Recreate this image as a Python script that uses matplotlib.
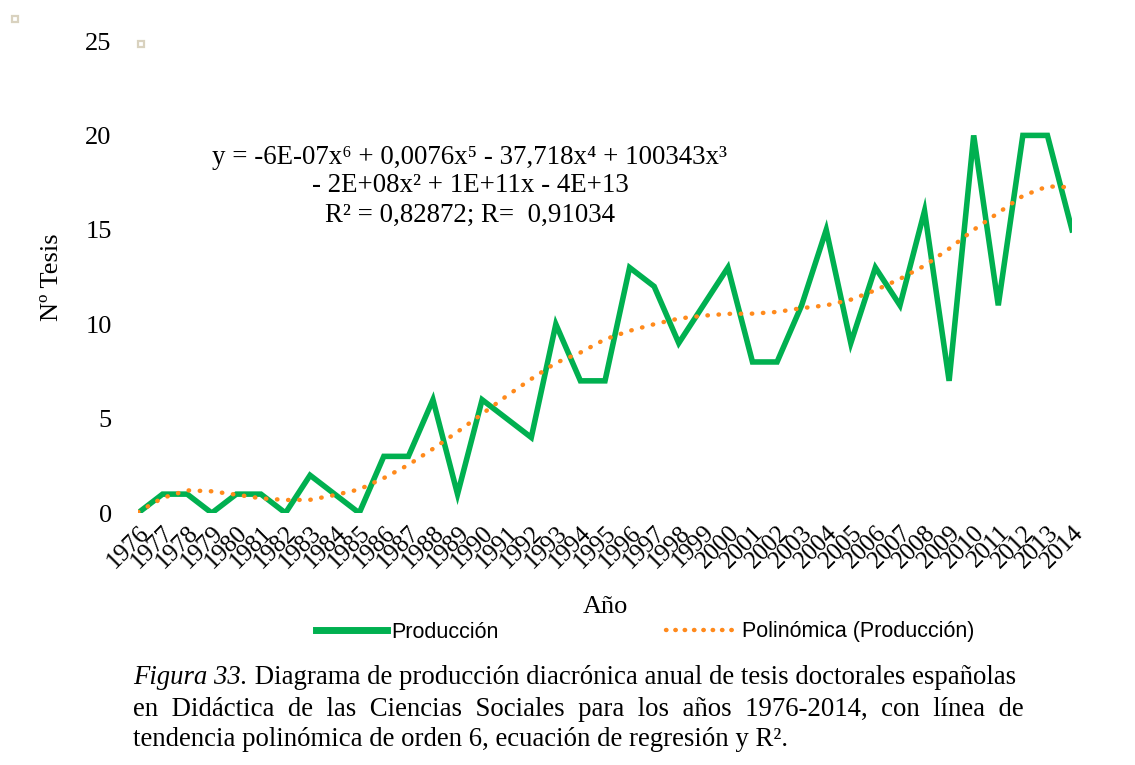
#!/usr/bin/env python3

import numpy as np
import matplotlib
matplotlib.use('Agg')
import matplotlib.pyplot as plt
from matplotlib.lines import Line2D

years = list(range(1976, 2015))
produccion = [0, 1, 1, 0, 1, 1, 0, 2, 1, 0,
              3, 3, 6, 1, 6, 5, 4, 10, 7, 7,
              13, 12, 9, 11, 13, 8, 8, 11, 15, 9,
              13, 11, 16, 7, 20, 11, 20, 20, 15]
# trend line (order 6 polynomial)
tendencia = [0.05, 0.8, 1.2, 1.15, 0.97, 0.78, 0.69, 0.7, 0.95, 1.25,
             1.85, 2.55, 3.4, 4.3, 5.25, 6.2, 7.1, 7.95, 8.5, 9.2,
             9.65, 10.0, 10.3, 10.45, 10.55, 10.56, 10.65, 10.85, 11.0, 11.3,
             11.8, 12.4, 13.1, 14.0, 15.0, 15.9, 16.8, 17.3, 17.25]
yticks = [0, 5, 10, 15, 20, 25]

serif = ['Liberation Serif', 'DejaVu Serif']
green = '#00B050'
orange = '#FF8A1C'

fig = plt.figure(figsize=(11.35, 7.65), dpi=100)
ax = fig.add_axes([0.1216, 0.3294, 0.8229, 0.6170])

ax.plot(years, produccion, color=green, lw=4.0, solid_joinstyle='miter',
        label='Producción', zorder=2)
ax.plot(years, tendencia, color=orange, lw=3.2, linestyle=(0, (0.1, 2.4)),
        dash_capstyle='round', label='Polinómica (Producción)', zorder=3)

ax.set_xlim(years[0], years[-1])
ax.set_ylim(0, 25)
ax.set_xticks(years)
ax.set_xticklabels([str(y) for y in years], rotation=45, ha='right',
                   va='top', rotation_mode='anchor', family=serif, fontsize=18)
ax.set_yticks(yticks)
ax.set_yticklabels([str(v) for v in yticks], family=serif, fontsize=19)
ax.tick_params(axis='both', length=0)
ax.tick_params(axis='y', pad=19)
ax.tick_params(axis='x', pad=6)
for s in ax.spines.values():
    s.set_visible(False)

ax.set_ylabel('Nº Tesis', family=serif, fontsize=19, labelpad=16)
fig.text(605 / 1135, 1 - 607 / 765, 'Año', family=serif, fontsize=19,
         ha='center', va='center')

eq = ['y = -6E-07x⁶ + 0,0076x⁵ - 37,718x⁴ + 100343x³',
      '- 2E+08x² + 1E+11x - 4E+13',
      'R² = 0,82872; R=  0,91034']
for i, line in enumerate(eq):
    fig.text(470 / 1135, 1 - (157 + i * 29) / 765, line, family=serif,
             fontsize=19.4, ha='center', va='center')

leg = fig.legend(handles=[
    Line2D([], [], color=green, lw=5),
    Line2D([], [], color=orange, lw=3.2, linestyle=(0, (0.1, 2.0)),
           dash_capstyle='round')],
    labels=['Producción', 'Polinómica (Producción)'],
    loc='center', bbox_to_anchor=(645 / 1135, 1 - 632 / 765), ncol=2,
    frameon=False, handlelength=3.3, handletextpad=0.2, columnspacing=7.8,
    prop={'family': ['Liberation Sans Narrow', 'Liberation Sans'], 'size': 15.5})

# caption
cap_y = [678, 710, 740]
t = fig.text(133 / 1135, 1 - cap_y[0] / 765, 'Figura 33.', family=serif,
             style='italic', fontsize=19.3, va='center')
ax.annotate(' Diagrama de producción diacrónica anual de tesis doctorales españolas',
            xy=(1, 0.5), xycoords=t, va='center', family=serif, fontsize=19.3)
fig.text(133 / 1135, 1 - cap_y[1] / 765,
         'en  Didáctica  de  las  Ciencias  Sociales  para  los  años  1976-2014,  con  línea  de',
         family=serif, fontsize=19.3, va='center')
fig.text(133 / 1135, 1 - cap_y[2] / 765,
         'tendencia polinómica de orden 6, ecuación de regresión y R².',
         family=serif, fontsize=19.3, va='center')

# small frame artefacts of the original
for px, py in [(15, 19), (141, 44)]:
    fig.add_artist(Line2D([px / 1135], [1 - py / 765], marker='s', ms=5,
                          mfc='white', mec='#d9d2bf', mew=1.6, ls='none',
                          transform=fig.transFigure))

fig.savefig('out.png', dpi=100, facecolor='white')
